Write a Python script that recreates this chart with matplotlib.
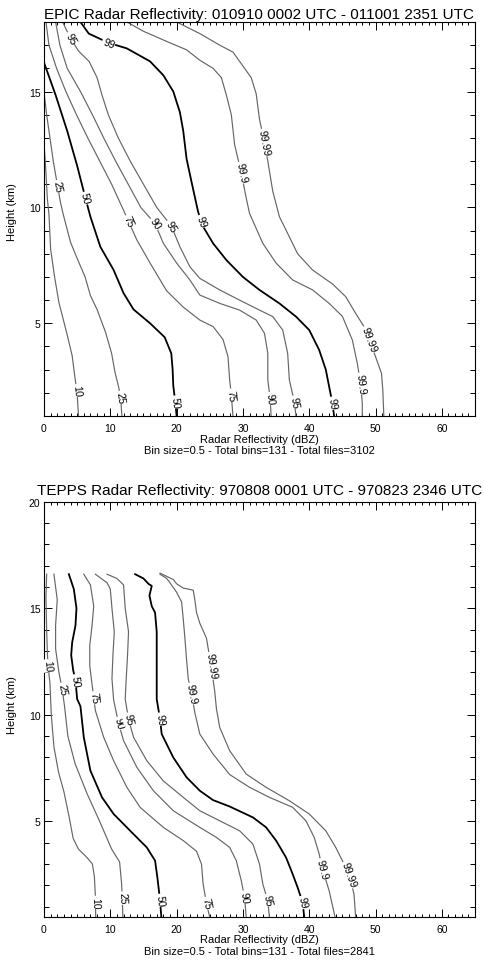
import numpy as np
import matplotlib
matplotlib.use('Agg')
import matplotlib.pyplot as plt
from matplotlib.ticker import MultipleLocator

plt.rcParams['font.family'] = ['Liberation Sans', 'DejaVu Sans']

levels = ['10', '25', '50', '75', '90', '95', '99', '99.9', '99.99']
thick = ['50', '99']

# ---- EPIC (top panel): percentile contours, x=dBZ, y=km ----
e10_x = [0.0, 0.3, 0.5, 0.75, 1.0, 1.6, 2.25, 3.5, 4.25, 4.6, 5.0, 5.2]
e10_y = [12.8, 11.5, 10.4, 9.7, 8.2, 7.0, 5.9, 4.5, 3.6, 2.8, 2.0, 1.0]
e25_x = [0.0, 0.4, 0.9, 1.4, 2.0, 2.5, 2.9, 4.0, 5.0, 6.2, 7.0, 8.0, 9.3, 10.2, 10.7, 11.3, 11.6, 11.75]
e25_y = [15.0, 14.0, 13.0, 12.0, 11.0, 10.2, 9.7, 8.5, 7.8, 7.0, 6.2, 5.6, 4.6, 3.7, 2.9, 2.2, 1.6, 1.0]
e50_x = [0.0, 1.75, 3.5, 5.0, 6.25, 7.0, 8.5, 10.5, 12.0, 13.5, 16.0, 18.2, 19.2, 19.4, 19.5, 19.8, 20.0]
e50_y = [16.25, 14.85, 13.3, 11.8, 10.4, 9.6, 8.3, 7.3, 6.3, 5.6, 5.0, 4.4, 3.7, 3.0, 2.3, 1.6, 1.0]
e75_x = [0.3, 0.75, 1.9, 3.3, 4.9, 6.6, 8.4, 10.2, 11.8, 12.75, 14.0, 16.0, 18.5, 21.0, 23.5, 25.5, 27.0, 27.75, 28.0, 28.25, 28.5]
e75_y = [18.0, 17.0, 16.0, 15.0, 14.0, 13.0, 12.0, 11.0, 10.0, 9.4, 8.6, 7.6, 6.4, 5.7, 5.14, 4.86, 4.3, 3.56, 2.56, 1.9, 1.0]
e90_x = [1.75, 2.4, 3.5, 5.5, 7.3, 9.0, 10.8, 12.7, 14.6, 16.75, 18.0, 20.0, 22.0, 23.5, 26.5, 29.5, 32.0, 33.25, 33.75, 33.75, 34.1, 34.25]
e90_y = [18.0, 17.0, 16.0, 15.0, 14.0, 13.0, 12.0, 11.0, 10.0, 9.3, 8.45, 7.6, 6.87, 6.22, 5.86, 5.57, 5.14, 4.57, 3.71, 2.56, 1.77, 1.0]
e95_x = [2.8, 4.0, 5.2, 6.8, 8.0, 8.8, 9.7, 11.2, 13.0, 15.0, 17.0, 19.2, 20.5, 22.0, 23.5, 26.5, 29.5, 32.5, 34.5, 36.0, 36.75, 37.0, 37.75, 38.0]
e95_y = [18.0, 17.3, 16.75, 16.3, 15.6, 14.8, 14.0, 13.0, 12.0, 11.0, 10.0, 9.2, 8.3, 7.44, 6.94, 6.44, 6.0, 5.57, 5.29, 4.71, 3.7, 2.56, 1.62, 1.0]
e99_x = [5.5, 6.75, 9.75, 12.5, 16.0, 18.0, 19.5, 20.5, 21.0, 21.5, 22.25, 23.25, 24.0, 25.5, 27.5, 30.0, 32.5, 35.5, 38.0, 40.0, 41.5, 42.5, 43.0, 43.5, 43.75]
e99_y = [18.0, 17.5, 17.1, 16.86, 16.3, 15.7, 15.0, 14.1, 13.3, 12.1, 11.1, 9.8, 9.17, 8.45, 7.73, 7.0, 6.44, 5.86, 5.29, 4.71, 3.85, 3.0, 2.27, 1.55, 1.0]
e999_x = [12.5, 15.0, 19.0, 21.5, 23.5, 25.5, 26.75, 27.5, 28.25, 28.75, 29.75, 30.5, 31.0, 33.0, 35.0, 37.5, 40.5, 43.0, 45.0, 46.5, 47.25, 47.75, 48.0, 48.0]
e999_y = [18.0, 17.6, 17.1, 16.8, 16.35, 16.0, 15.6, 14.85, 14.0, 12.7, 11.5, 10.4, 9.74, 8.45, 7.6, 6.87, 6.44, 5.86, 5.3, 4.28, 3.27, 2.4, 1.55, 1.0]
e9999_x = [20.0, 23.5, 26.5, 28.5, 29.5, 31.25, 32.0, 32.5, 33.25, 33.75, 34.5, 35.5, 37.0, 38.25, 40.5, 43.5, 45.5, 47.0, 48.25, 49.0, 50.0, 50.9, 51.1, 51.25]
e9999_y = [18.0, 17.5, 17.0, 16.7, 16.3, 15.6, 14.9, 13.8, 12.8, 12.0, 10.7, 9.6, 8.73, 8.0, 7.3, 6.7, 6.15, 5.43, 4.86, 4.3, 3.56, 2.84, 2.1, 1.0]
# heights (km) where each contour carries its label
e_lab = [[2.1], [10.9, 1.8], [10.4, 1.6], [9.4, 1.9], [9.3, 1.75], [17.3, 9.2, 1.6],
         [17.1, 9.4, 1.55], [11.5, 2.4], [12.8, 4.3]]

# ---- TEPPS (bottom panel) ----
t10_x = [0.4, 0.3, 0.4, 0.5, 0.6, 0.9, 1.1, 1.5, 2.2, 3.0, 3.8, 4.4, 5.2, 6.5, 7.3, 7.6, 7.75, 7.8]
t10_y = [16.6, 15.5, 14.0, 13.0, 12.3, 11.5, 10.0, 8.5, 7.3, 6.4, 5.2, 4.2, 3.7, 3.3, 3.0, 2.4, 1.5, 0.5]
t25_x = [1.5, 2.0, 1.75, 1.75, 2.25, 2.75, 3.1, 3.6, 4.7, 6.5, 8.4, 10.2, 11.4, 11.7, 11.8, 11.9]
t25_y = [16.6, 15.4, 14.2, 13.1, 12.0, 11.2, 10.4, 9.0, 7.7, 6.3, 5.0, 3.7, 3.1, 2.1, 1.4, 0.5]
t50_x = [3.75, 4.5, 4.9, 4.75, 4.25, 4.1, 4.4, 4.75, 5.0, 5.5, 6.0, 7.0, 8.75, 10.5, 13.0, 15.5, 16.75, 17.1, 17.5, 17.7]
t50_y = [16.6, 15.9, 15.0, 14.2, 13.4, 12.8, 12.1, 11.6, 10.74, 10.4, 8.95, 7.38, 6.13, 5.35, 4.56, 3.78, 3.16, 2.37, 1.3, 0.5]
t75_x = [6.0, 7.0, 7.5, 7.25, 6.9, 6.9, 7.5, 7.75, 9.0, 10.5, 12.5, 14.5, 18.0, 21.0, 23.0, 23.75, 24.0, 24.5, 25.0]
t75_y = [16.6, 16.1, 15.1, 14.2, 13.25, 12.3, 10.8, 10.2, 8.95, 7.85, 6.6, 5.66, 4.72, 4.1, 3.6, 3.0, 2.06, 1.15, 0.5]
t90_x = [7.75, 9.5, 10.0, 10.25, 10.6, 10.4, 10.25, 10.5, 11.25, 12.0, 14.0, 16.5, 19.5, 23.5, 26.0, 28.0, 29.0, 29.75, 30.25, 30.5]
t90_y = [16.6, 16.2, 15.9, 15.0, 13.9, 12.8, 11.7, 10.7, 9.6, 8.79, 7.54, 6.44, 5.5, 4.72, 4.25, 3.78, 3.16, 2.22, 1.43, 0.5]
t95_x = [9.5, 11.0, 12.0, 12.25, 12.75, 12.6, 12.4, 12.25, 12.75, 13.5, 15.5, 18.0, 21.0, 23.5, 26.5, 29.5, 31.5, 32.5, 33.0, 33.75, 34.0]
t95_y = [16.6, 16.4, 16.1, 15.0, 13.9, 12.8, 11.7, 10.74, 9.8, 8.95, 7.85, 6.9, 6.13, 5.5, 5.03, 4.56, 3.94, 3.0, 2.06, 1.28, 0.5]
t99_x = [13.75, 15.0, 15.75, 16.25, 15.9, 16.25, 16.75, 17.0, 17.0, 17.0, 17.5, 17.75, 19.5, 21.5, 23.5, 25.5, 28.0, 31.5, 33.5, 35.0, 36.5, 37.5, 38.25, 39.0, 39.25]
t99_y = [16.6, 16.4, 16.15, 16.05, 15.6, 15.1, 14.8, 13.9, 12.3, 10.74, 9.8, 9.1, 8.0, 7.07, 6.44, 6.0, 5.7, 5.19, 4.72, 4.1, 3.31, 2.53, 1.9, 1.2, 0.5]
t999_x = [17.5, 18.5, 19.0, 20.0, 20.75, 21.0, 21.25, 21.5, 21.75, 22.25, 22.75, 23.5, 25.5, 28.0, 31.0, 34.0, 37.5, 39.5, 40.75, 41.5, 42.0, 43.0, 43.9]
t999_y = [16.6, 16.4, 16.2, 15.75, 15.3, 14.5, 13.6, 12.6, 11.7, 11.0, 10.1, 9.1, 8.16, 7.2, 6.6, 6.13, 5.66, 5.03, 4.25, 3.47, 2.76, 1.75, 0.5]
t9999_x = [17.5, 18.5, 19.5, 20.0, 21.0, 22.5, 22.75, 23.0, 23.5, 24.5, 25.2, 25.75, 26.0, 26.5, 28.0, 30.5, 33.5, 37.0, 40.0, 42.5, 44.0, 46.0, 46.75, 47.0]
t9999_y = [16.65, 16.5, 16.35, 16.15, 15.95, 15.85, 15.4, 14.8, 14.3, 13.6, 12.3, 11.1, 10.3, 9.41, 8.32, 7.22, 6.6, 5.97, 5.35, 4.56, 3.78, 2.53, 1.59, 0.5]
t_lab = [[12.3, 1.2], [11.2, 1.4], [11.6, 1.3], [10.8, 1.15], [9.6, 1.45], [9.8, 1.3],
         [9.8, 1.2], [11.0, 2.76], [12.3, 2.5]]

epic_curves = [(e10_x, e10_y), (e25_x, e25_y), (e50_x, e50_y), (e75_x, e75_y), (e90_x, e90_y),
               (e95_x, e95_y), (e99_x, e99_y), (e999_x, e999_y), (e9999_x, e9999_y)]
tepps_curves = [(t10_x, t10_y), (t25_x, t25_y), (t50_x, t50_y), (t75_x, t75_y), (t90_x, t90_y),
                (t95_x, t95_y), (t99_x, t99_y), (t999_x, t999_y), (t9999_x, t9999_y)]


def panel(ax, curves, labs, ylim, title, title_pad):
    ax.set_xlim(0, 65)
    ax.set_ylim(*ylim)
    for lev, (x, y), hs in zip(levels, curves, labs):
        if lev in thick:
            ax.plot(x, y, color='black', lw=1.3, zorder=2)
        else:
            ax.plot(x, y, color='#666666', lw=0.85, zorder=2)
        xa = np.array(x)[::-1]
        ya = np.array(y)[::-1]
        for h in hs:
            x0 = np.interp(h, ya, xa)
            xu = np.interp(h + 0.3, ya, xa)
            xd = np.interp(h - 0.3, ya, xa)
            pu = ax.transData.transform((xu, h + 0.3))
            pd_ = ax.transData.transform((xd, h - 0.3))
            ang = np.degrees(np.arctan2(pd_[1] - pu[1], pd_[0] - pu[0]))
            if ang < -100:
                ang += 180
            ax.text(x0, h, lev, fontsize=7.5, rotation=ang, rotation_mode='anchor',
                    ha='center', va='center', zorder=3,
                    bbox=dict(facecolor='white', edgecolor='none', pad=0.6))
    ax.xaxis.set_major_locator(MultipleLocator(10))
    ax.xaxis.set_minor_locator(MultipleLocator(1))
    ax.yaxis.set_major_locator(MultipleLocator(5))
    ax.yaxis.set_minor_locator(MultipleLocator(1))
    ax.tick_params(which='both', direction='in', top=True, right=True, labelsize=7.5, width=0.7)
    ax.tick_params(axis='x', which='major', length=5.5, pad=5)
    ax.tick_params(axis='x', which='minor', length=2.5)
    ax.tick_params(axis='y', which='major', length=5.5, pad=2.5)
    ax.tick_params(axis='y', which='minor', length=3.5)
    for s in ax.spines.values():
        s.set_linewidth(0.8)
    ax.set_title(title, fontsize=11, pad=title_pad)


fig = plt.figure(figsize=(4.85, 9.62), dpi=100)
ax1 = fig.add_axes([0.0907, 0.5665, 0.8887, 0.4096])
ax2 = fig.add_axes([0.0907, 0.0454, 0.8887, 0.4320])

panel(ax1, epic_curves, e_lab, (1, 18),
      'EPIC Radar Reflectivity: 010910 0002 UTC - 011001 2351 UTC', 3)
panel(ax2, tepps_curves, t_lab, (0.5, 20),
      'TEPPS Radar Reflectivity: 970808 0001 UTC - 970823 2346 UTC', 5.5)

H = 962.0
xc = (44 + 475) / 2 / 485.0
fig.text(xc, 1 - 440 / H, 'Radar Reflectivity (dBZ)', fontsize=8, ha='center', va='center')
fig.text(xc, 1 - 451 / H, 'Bin size=0.5 - Total bins=131 - Total files=3102', fontsize=8, ha='center', va='center')
fig.text(xc, 1 - 940 / H, 'Radar Reflectivity (dBZ)', fontsize=8, ha='center', va='center')
fig.text(xc, 1 - 952 / H, 'Bin size=0.5 - Total bins=131 - Total files=2841', fontsize=8, ha='center', va='center')
fig.text(12 / 485.0, 1 - 212 / H, 'Height (km)', fontsize=8, rotation=90, ha='center', va='center')
fig.text(12 / 485.0, 1 - 705 / H, 'Height (km)', fontsize=8, rotation=90, ha='center', va='center')

fig.savefig('out.png', dpi=100)
